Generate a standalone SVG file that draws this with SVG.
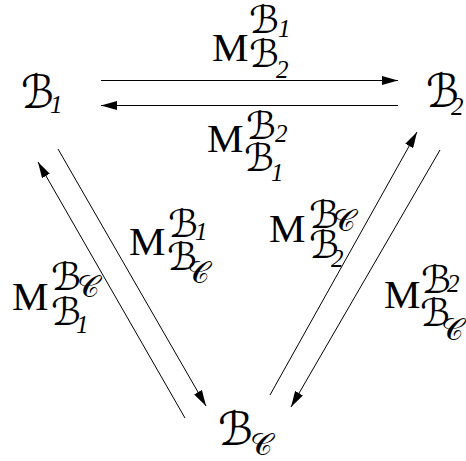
<svg xmlns="http://www.w3.org/2000/svg" width="466" height="461" viewBox="0 0 466 461">
<style>
.bg{fill:#fff}
.m{font-family:"Liberation Serif","Times New Roman",serif;font-size:41px;fill:#000}
.cal{font-family:"DejaVu Serif","DejaVu Sans",serif;font-size:38px;fill:#000}
.calN{font-family:"DejaVu Serif","DejaVu Sans",serif;font-size:46px;fill:#000}
.d{font-family:"Liberation Serif","Times New Roman",serif;font-style:italic;font-size:25px;fill:#000}
.c{font-family:"DejaVu Serif","DejaVu Sans",serif;font-size:31px;fill:#000}
.e{stroke:#000;stroke-width:1;fill:none;marker-end:url(#ah)}
</style>
<defs>
<marker id="ah" markerWidth="16" markerHeight="9" refX="16" refY="4.5" orient="auto" markerUnits="userSpaceOnUse">
<path d="M0,0 L16,4.5 L0,9 z" fill="#000"/>
</marker>
</defs>
<rect class="bg" width="466" height="461"/>
<g id="node-B1">
<text class="calN" x="21" y="108" textLength="33" lengthAdjust="spacingAndGlyphs">ℬ</text>
<text class="d" x="50" y="113">1</text>
</g>
<g id="node-B2">
<text class="calN" x="426" y="107" textLength="33" lengthAdjust="spacingAndGlyphs">ℬ</text>
<text class="d" x="451" y="115">2</text>
</g>
<g id="node-BC">
<text class="calN" x="218" y="445" textLength="35" lengthAdjust="spacingAndGlyphs">ℬ</text>
<text class="c" x="250" y="455">𝒞</text>
</g>
<g id="connectors">
<g id="e-B1-B2">
<line class="e" x1="101" y1="80.5" x2="398" y2="80.5"/>
<text class="m" x="212" y="61">M</text>
<text class="cal" x="249" y="33" textLength="30" lengthAdjust="spacingAndGlyphs">ℬ</text><text class="d" x="278" y="37">1</text>
<text class="cal" x="249" y="67" textLength="30" lengthAdjust="spacingAndGlyphs">ℬ</text><text class="d" x="276" y="78">2</text>
</g>
<g id="e-B2-B1">
<line class="e" x1="398" y1="105.5" x2="101" y2="105.5"/>
<text class="m" x="207" y="152">M</text>
<text class="cal" x="246" y="139" textLength="30" lengthAdjust="spacingAndGlyphs">ℬ</text><text class="d" x="275" y="142">2</text>
<text class="cal" x="244" y="171" textLength="30" lengthAdjust="spacingAndGlyphs">ℬ</text><text class="d" x="271" y="181">1</text>
</g>
<g id="e-B1-BC">
<line class="e" x1="58" y1="149" x2="206" y2="406"/>
<text class="m" x="129" y="255">M</text>
<text class="cal" x="168" y="237" textLength="30" lengthAdjust="spacingAndGlyphs">ℬ</text><text class="d" x="195" y="240">1</text>
<text class="cal" x="167" y="270" textLength="30" lengthAdjust="spacingAndGlyphs">ℬ</text><text class="c" x="187" y="283">𝒞</text>
</g>
<g id="e-BC-B1">
<line class="e" x1="185" y1="418" x2="38" y2="162"/>
<text class="m" x="12" y="310">M</text>
<text class="cal" x="51" y="290" textLength="30" lengthAdjust="spacingAndGlyphs">ℬ</text><text class="c" x="77" y="297">𝒞</text>
<text class="cal" x="51" y="325" textLength="30" lengthAdjust="spacingAndGlyphs">ℬ</text><text class="d" x="76" y="333">1</text>
</g>
<g id="e-BC-B2">
<line class="e" x1="270" y1="395" x2="417" y2="132"/>
<text class="m" x="269" y="242">M</text>
<text class="cal" x="309" y="228" textLength="30" lengthAdjust="spacingAndGlyphs">ℬ</text><text class="c" x="333" y="231">𝒞</text>
<text class="cal" x="309" y="258" textLength="30" lengthAdjust="spacingAndGlyphs">ℬ</text><text class="d" x="331" y="267">2</text>
</g>
<g id="e-B2-BC">
<line class="e" x1="440" y1="150" x2="291" y2="407"/>
<text class="m" x="384" y="308">M</text>
<text class="cal" x="421" y="293" textLength="30" lengthAdjust="spacingAndGlyphs">ℬ</text><text class="d" x="447" y="292">2</text>
<text class="cal" x="420" y="326" textLength="30" lengthAdjust="spacingAndGlyphs">ℬ</text><text class="c" x="441" y="340">𝒞</text>
</g>
</g>
</svg>
